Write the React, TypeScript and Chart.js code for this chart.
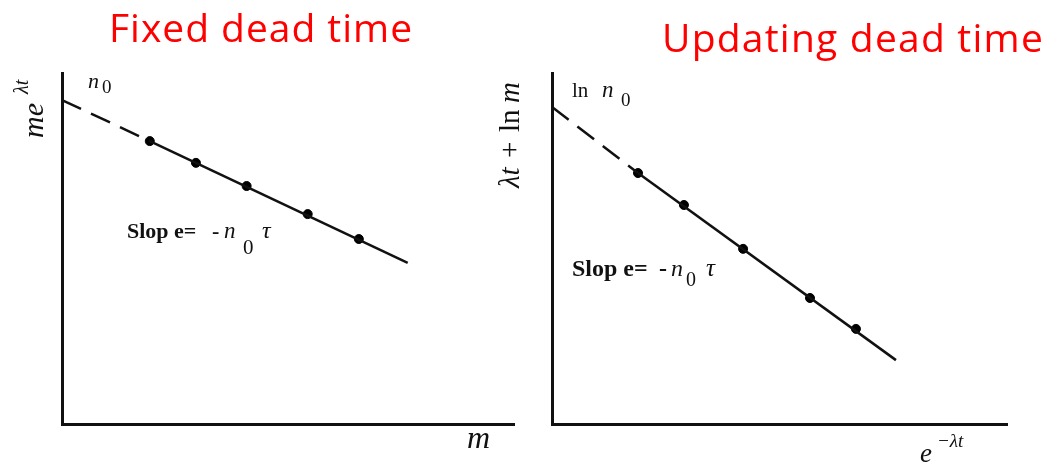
import React, { useEffect, useRef } from "react";
import { Chart, registerables } from "chart.js";

Chart.register(...registerables);

// ---- Data (left panel: fixed dead time) ----
const fixedM = [1.94, 2.96, 4.08, 5.43, 6.56];
const fixedY = [8.06, 7.44, 6.78, 5.98, 5.27];
const fixedDashX = [0, 1.94];
const fixedDashY = [9.23, 8.06];
const fixedSolidX = [1.94, 7.64];
const fixedSolidY = [8.06, 4.59];

// ---- Data (right panel: updating dead time) ----
const updX = [1.89, 2.9, 4.2, 5.67, 6.68];
const updY = [7.15, 6.24, 4.99, 3.59, 2.71];
const updDashX = [0, 1.89];
const updDashY = [9.03, 7.15];
const updSolidX = [1.89, 7.56];
const updSolidY = [7.15, 1.82];

const axisMin = 0;
const axisMax = 10;

const SERIF = '"Liberation Serif", "DejaVu Serif", serif';
const SANS = '"Open Sans", Lato, sans-serif';
const RED = "#ff0000";

type Run = { t: string; font: string; x: number; y: number };

function drawRuns(ctx: CanvasRenderingContext2D, runs: Run[], color = "#111") {
  ctx.fillStyle = color;
  ctx.textBaseline = "alphabetic";
  ctx.textAlign = "left";
  for (const r of runs) {
    ctx.font = r.font;
    ctx.fillText(r.t, r.x, r.y);
  }
}

function drawFitTitle(ctx: CanvasRenderingContext2D, text: string, x: number, y: number, width: number) {
  const c: any = ctx;
  ctx.font = `39px ${SANS}`;
  c.letterSpacing = "0px";
  const w = ctx.measureText(text).width;
  const ls = (width - w) / text.length;
  c.letterSpacing = `${ls}px`;
  ctx.fillStyle = RED;
  ctx.textBaseline = "alphabetic";
  ctx.textAlign = "left";
  ctx.fillText(text, x, y);
  c.letterSpacing = "0px";
}

function pts(xs: number[], ys: number[]) {
  return xs.map((x, i) => ({ x, y: ys[i] }));
}

function makeConfig(
  dashX: number[], dashY: number[], solidX: number[], solidY: number[],
  px: number[], py: number[], padding: any, drawAnnot: (ctx: CanvasRenderingContext2D) => void
): any {
  const scale = {
    type: "linear",
    min: axisMin,
    max: axisMax,
    grid: { display: false, drawTicks: false },
    border: { display: true, color: "#111", width: 3 },
    ticks: { display: false },
  };
  return {
    type: "scatter",
    data: {
      datasets: [
        {
          data: pts(dashX, dashY),
          showLine: true,
          borderColor: "#111",
          borderWidth: 2.5,
          borderDash: [21, 11],
          pointRadius: 0,
        },
        {
          data: pts(solidX, solidY),
          showLine: true,
          borderColor: "#111",
          borderWidth: 2.5,
          pointRadius: 0,
        },
        {
          data: pts(px, py),
          showLine: false,
          pointRadius: 4.5,
          backgroundColor: "#000",
          borderColor: "#000",
        },
      ],
    },
    options: {
      animation: false,
      responsive: false,
      maintainAspectRatio: false,
      layout: { padding },
      plugins: { legend: { display: false }, tooltip: { enabled: false }, title: { display: false } },
      scales: { x: { ...scale }, y: { ...scale } },
    },
    plugins: [
      {
        id: "annot",
        afterDraw(chart: any) {
          const ctx = chart.ctx as CanvasRenderingContext2D;
          ctx.save();
          drawAnnot(ctx);
          ctx.restore();
        },
      },
    ],
  };
}

const RIGHT_OFFSET = 480;

function drawLeft(ctx: CanvasRenderingContext2D) {
  drawFitTitle(ctx, "Fixed dead time", 109, 42, 304);
  drawRuns(ctx, [
    { t: "n", font: `italic 22px ${SERIF}`, x: 88, y: 88 },
    { t: "0", font: `19px ${SERIF}`, x: 102, y: 93 },
  ]);
  ctx.save();
  ctx.translate(43, 138);
  ctx.rotate(-Math.PI / 2);
  drawRuns(ctx, [
    { t: "me", font: `italic 30px ${SERIF}`, x: 0, y: 0 },
    { t: "λt", font: `italic 20px ${SERIF}`, x: 44, y: -15 },
  ]);
  ctx.restore();
  drawRuns(ctx, [{ t: "m", font: `italic 32px ${SERIF}`, x: 467, y: 448 }]);
  drawRuns(ctx, [
    { t: "Slop e=", font: `bold 22px ${SERIF}`, x: 127, y: 238 },
    { t: "-", font: `bold 22px ${SERIF}`, x: 212, y: 238 },
    { t: "n", font: `italic 23px ${SERIF}`, x: 224, y: 238 },
    { t: "0", font: `21px ${SERIF}`, x: 243, y: 254 },
    { t: "τ", font: `italic 24px ${SERIF}`, x: 262, y: 238 },
  ]);
}

function drawRight(ctx: CanvasRenderingContext2D) {
  const o = RIGHT_OFFSET;
  drawFitTitle(ctx, "Updating dead time", 662 - o, 52, 382);
  drawRuns(ctx, [
    { t: "ln", font: `21px ${SERIF}`, x: 572 - o, y: 97 },
    { t: "n", font: `italic 23px ${SERIF}`, x: 602 - o, y: 97 },
    { t: "0", font: `19px ${SERIF}`, x: 621 - o, y: 106 },
  ]);
  ctx.save();
  ctx.translate(519 - o, 188);
  ctx.rotate(-Math.PI / 2);
  drawRuns(ctx, [
    { t: "λt", font: `italic 29px ${SERIF}`, x: 0, y: 0 },
    { t: "+", font: `29px ${SERIF}`, x: 30, y: 0 },
    { t: "ln", font: `29px ${SERIF}`, x: 56, y: 0 },
    { t: "m", font: `italic 29px ${SERIF}`, x: 85, y: 0 },
  ]);
  ctx.restore();
  drawRuns(ctx, [
    { t: "e", font: `italic 27px ${SERIF}`, x: 920 - o, y: 462 },
    { t: "−λt", font: `italic 19px ${SERIF}`, x: 937 - o, y: 447 },
  ]);
  drawRuns(ctx, [
    { t: "Slop e=", font: `bold 24px ${SERIF}`, x: 572 - o, y: 276 },
    { t: "-", font: `bold 24px ${SERIF}`, x: 659 - o, y: 276 },
    { t: "n", font: `italic 24px ${SERIF}`, x: 671 - o, y: 276 },
    { t: "0", font: `20px ${SERIF}`, x: 686 - o, y: 286 },
    { t: "τ", font: `italic 25px ${SERIF}`, x: 706 - o, y: 276 },
  ]);
}

export default function App() {
  const leftRef = useRef<HTMLCanvasElement>(null);
  const rightRef = useRef<HTMLCanvasElement>(null);
  const rightW = 1051 - RIGHT_OFFSET;

  useEffect(() => {
    document.body.style.margin = "0";
    const left = new Chart(
      leftRef.current!,
      makeConfig(fixedDashX, fixedDashY, fixedSolidX, fixedSolidY, fixedM, fixedY,
        { left: 62, top: 73, right: 520 - 515, bottom: 464 - 424 }, drawLeft)
    );
    const right = new Chart(
      rightRef.current!,
      makeConfig(updDashX, updDashY, updSolidX, updSolidY, updX, updY,
        { left: 552 - RIGHT_OFFSET, top: 73, right: 1051 - 1007, bottom: 464 - 424 }, drawRight)
    );
    return () => {
      left.destroy();
      right.destroy();
    };
  }, []);

  return (
    <div style={{ position: "fixed", left: 0, top: 0, width: 1051, height: 464, background: "#fff" }}>
      <canvas ref={leftRef} width={520} height={464} style={{ position: "absolute", left: 0, top: 0, width: 520, height: 464 }} />
      <canvas ref={rightRef} width={rightW} height={464} style={{ position: "absolute", left: RIGHT_OFFSET, top: 0, width: rightW, height: 464 }} />
    </div>
  );
}
